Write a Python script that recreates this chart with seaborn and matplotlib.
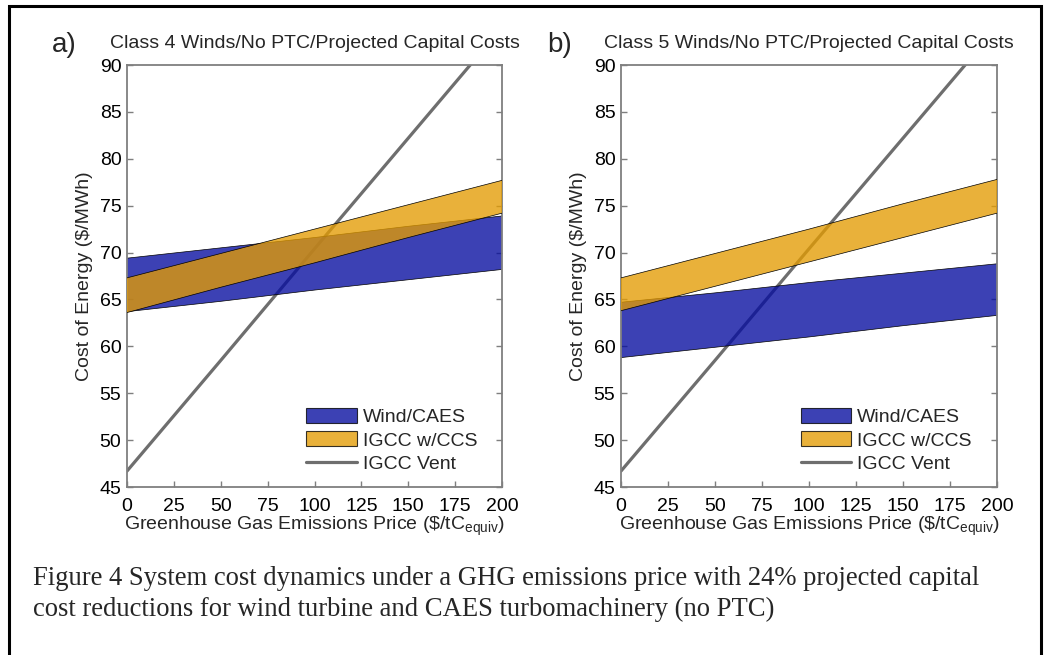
import numpy as np
import pandas as pd
import matplotlib
matplotlib.use("Agg")
import matplotlib.pyplot as plt
import seaborn as sns
from matplotlib.patches import Patch, Rectangle
from matplotlib.lines import Line2D

# ---- data ----
price = [0, 50, 100, 150, 200]

# panel a: Class 4 winds
a_wind_lo = [63.7, 64.8, 66.0, 67.1, 68.2]
a_wind_hi = [69.4, 70.5, 71.6, 72.8, 73.9]
a_igcc_lo = [63.6, 66.3, 68.9, 71.6, 74.2]
a_igcc_hi = [67.3, 69.9, 72.5, 75.1, 77.7]

# panel b: Class 5 winds
b_wind_lo = [58.8, 59.9, 61.0, 62.2, 63.3]
b_wind_hi = [64.7, 65.7, 66.8, 67.8, 68.8]
b_igcc_lo = [63.8, 66.4, 69.0, 71.6, 74.2]
b_igcc_hi = [67.3, 69.9, 72.5, 75.2, 77.8]

# IGCC vent line (same in both panels)
vent = [46.7, 58.5, 70.4, 82.2, 94.0]

titles = ["Class 4 Winds/No PTC/Projected Capital Costs",
          "Class 5 Winds/No PTC/Projected Capital Costs"]
panel_tags = ["a)", "b)"]
legend_labels = ["Wind/CAES", "IGCC w/CCS", "IGCC Vent"]
xticks = [0, 25, 50, 75, 100, 125, 150, 175, 200]
yticks = [45, 50, 55, 60, 65, 70, 75, 80, 85, 90]
caption = ("Figure 4 System cost dynamics under a GHG emissions price with 24% projected capital\n"
           "cost reductions for wind turbine and CAES turbomachinery (no PTC)")

# ---- style ----
sns.set_theme(style="white")
plt.rcParams["font.family"] = ["Liberation Sans", "DejaVu Sans"]
plt.rcParams["mathtext.fontset"] = "custom"
plt.rcParams["mathtext.rm"] = "Liberation Sans"
plt.rcParams["mathtext.it"] = "Liberation Sans"

WIND = (5/255, 12/255, 159/255)
IGCC = (228/255, 156/255, 2/255)
ALPHA = 0.78
VENT = "#6e6e6e"
SPINE = "#7f7f7f"
FS = 14

W, H = 1045, 655
fig = plt.figure(figsize=(W/100, H/100), dpi=100)

def ax_rect(l, r, t, b):
    return [l/W, 1 - b/H, (r-l)/W, (b-t)/H]

axes = [fig.add_axes(ax_rect(127, 502, 65, 487)),
        fig.add_axes(ax_rect(621, 997, 65, 487))]
tag_x = [52, 547]

panels = [(a_wind_lo, a_wind_hi, a_igcc_lo, a_igcc_hi),
          (b_wind_lo, b_wind_hi, b_igcc_lo, b_igcc_hi)]

for i, (ax, (wl, wh, il, ih)) in enumerate(zip(axes, panels)):
    df = pd.DataFrame({"price": price, "vent": vent})
    sns.lineplot(data=df, x="price", y="vent", ax=ax, color=VENT, lw=2.3,
                 zorder=1, legend=False)
    ax.fill_between(price, wl, wh, facecolor=WIND, alpha=ALPHA,
                    edgecolor="none", zorder=2)
    for arr in (wl, wh):
        ax.plot(price, arr, color="black", lw=0.5, zorder=2.1)
    ax.fill_between(price, il, ih, facecolor=IGCC, alpha=ALPHA,
                    edgecolor="none", zorder=3)
    for arr in (il, ih):
        ax.plot(price, arr, color="black", lw=0.5, zorder=3.1)

    ax.set_xlim(0, 200)
    ax.set_ylim(45, 90)
    ax.set_xticks(xticks)
    ax.set_yticks(yticks)
    ax.tick_params(direction="in", length=4, width=1, color=SPINE,
                   labelsize=FS, labelcolor="black", right=True, top=False,
                   left=True, bottom=True)
    ax.tick_params(axis="y", pad=4)
    ax.tick_params(axis="x", pad=8)
    for s in ax.spines.values():
        s.set_color(SPINE)
        s.set_linewidth(1.3)
        s.set_visible(True)
    ax.set_xlabel(r"Greenhouse Gas Emissions Price (\$/tC$_{\rm equiv}$)",
                  fontsize=FS, labelpad=0)
    ax.set_ylabel(r"Cost of Energy (\$/MWh)", fontsize=FS, labelpad=5)
    ax.set_title(titles[i], fontsize=FS, pad=12)
    fig.text(tag_x[i]/W, 1 - 45/H, panel_tags[i], fontsize=20,
             ha="left", va="center")

    handles = [Patch(facecolor=WIND, alpha=ALPHA, edgecolor="black", lw=0.8),
               Patch(facecolor=IGCC, alpha=ALPHA, edgecolor="black", lw=0.8),
               Line2D([0], [0], color=VENT, lw=2.3)]
    ax.legend(handles, legend_labels, loc="lower left",
              bbox_to_anchor=(0.478, 0.033), frameon=False, fontsize=FS,
              handlelength=2.6, handleheight=0.8, handletextpad=0.3,
              labelspacing=0.27, borderaxespad=0, borderpad=0)

# caption
fig.text(33/W, 1 - 566/H, caption, fontsize=19.2, family=["Liberation Serif"],
         ha="left", va="top", linespacing=1.32)

# frame around figure
fig.patches.append(Rectangle((9/W, -0.05), (1041-9)/W, 1.05 - 6/H,
                             transform=fig.transFigure, fill=False,
                             edgecolor="black", lw=2.2))

fig.savefig("out.png", dpi=100)
